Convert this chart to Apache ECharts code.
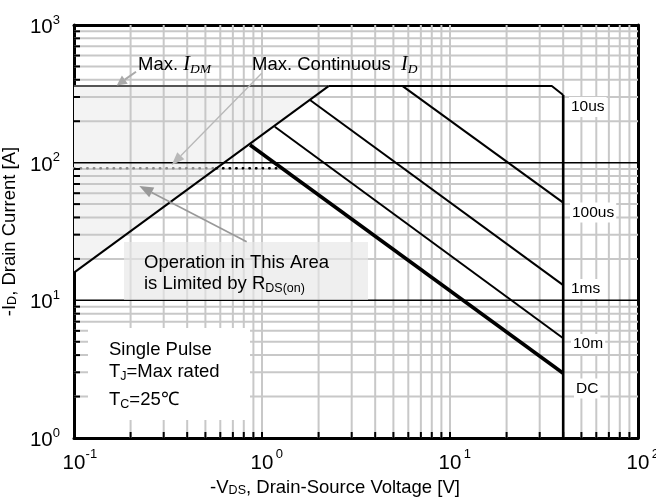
<!DOCTYPE html>
<html>
<head>
<meta charset="utf-8">
<script src="https://cdn.jsdelivr.net/npm/echarts@6/dist/echarts.min.js"></script>
<style>
  html, body { margin: 0; padding: 0; background: #fff; }
  #chart { width: 656px; height: 499px; }
</style>
</head>
<body>
<div id="chart"></div>
<script>
// Axis extents (log scales)
const X_MIN = 0.1, X_MAX = 100;
const Y_MIN = 1, Y_MAX = 1000;

// Decade mantissas used for the minor grid
const mantissas = [2, 3, 4, 5, 6, 7, 8, 9];
const xDecadeStarts = [0.1, 1, 10];
const yDecadeStarts = [1, 10, 100];
const xMajorLines = [1, 10];
const yMajorLines = [10, 100];

// Safe operating area boundaries [V, A]
const rdsOnLimit    = [[0.1, 15.9], [2.26, 360]];
const idmLimit      = [[0.1, 360], [2.26, 360]];
const rdsOnRegion   = [[0.1, 15.9], [0.1, 360], [2.26, 360]];
const idContInside  = [[0.1, 91], [0.572, 91]];
const idContOutside = [[0.572, 91], [1.28, 91]];
const curve10us     = [[2.26, 360], [34.8, 360], [40, 310]];
const curve100us    = [[5.6, 360], [40, 51.3]];
const curve1ms      = [[1.8, 285], [40, 12.9]];
const curve10ms     = [[1.17, 182.5], [40, 5.3]];
const curveDC       = [[0.864, 134.5], [40, 2.95]];
const bvdssLimit    = [[40, 310], [40, 1]];

const xMinorLines = [];
xDecadeStarts.forEach(d => mantissas.forEach(m => xMinorLines.push(+(d * m).toPrecision(3))));
const yMinorLines = [];
yDecadeStarts.forEach(d => mantissas.forEach(m => yMinorLines.push(+(d * m).toPrecision(3))));

const FONT = '"Liberation Sans", Arial, sans-serif';
const SERIF = '"Liberation Serif", "Times New Roman", serif';

function gridLineItem(vertical, color, width) {
  return function (params, api) {
    const v = vertical ? api.value(0) : api.value(1);
    const a = vertical ? api.coord([v, Y_MAX]) : api.coord([X_MIN, v]);
    const b = vertical ? api.coord([v, Y_MIN]) : api.coord([X_MAX, v]);
    return { type: 'line', shape: { x1: a[0], y1: a[1], x2: b[0], y2: b[1] },
             style: { stroke: color, lineWidth: width } };
  };
}

function tickItem(vertical) {
  return function (params, api) {
    if (vertical) {
      const p = api.coord([api.value(0), Y_MIN]);
      return { type: 'line', shape: { x1: p[0], y1: p[1], x2: p[0], y2: p[1] - 6 },
               style: { stroke: '#000', lineWidth: 2 } };
    }
    const p = api.coord([X_MIN, api.value(1)]);
    return { type: 'line', shape: { x1: p[0], y1: p[1], x2: p[0] + 6, y2: p[1] },
             style: { stroke: '#000', lineWidth: 2 } };
  };
}

function lineSeries(data, width, color, extra) {
  return Object.assign({
    type: 'line', data: data, showSymbol: false, symbol: 'none', silent: true,
    lineStyle: { color: color || '#000', width: width }, z: 6
  }, extra || {});
}

function arrow(x1, y1, x2, y2, color, w, hl, hw) {
  const ang = Math.atan2(y2 - y1, x2 - x1);
  const bx = x2 - hl * Math.cos(ang), by = y2 - hl * Math.sin(ang);
  const nx = -Math.sin(ang) * hw / 2, ny = Math.cos(ang) * hw / 2;
  return [
    { type: 'line', z: 100, shape: { x1: x1, y1: y1, x2: bx, y2: by },
      style: { stroke: color, lineWidth: w } },
    { type: 'polygon', z: 100, shape: { points: [[x2, y2], [bx + nx, by + ny], [bx - nx, by - ny]] },
      style: { fill: color } }
  ];
}

function text(x, y, str, rich, extra) {
  return { type: 'text', x: x, y: y, z: 101,
    style: Object.assign({ text: str, rich: rich, fontFamily: FONT, fontSize: 18.5, fill: '#000',
                           align: 'left', verticalAlign: 'middle' }, extra || {}) };
}

const richSubText = {
  n: { fontFamily: FONT, fontSize: 18.5, lineHeight: 22 },
  s: { fontFamily: FONT, fontSize: 12.5, lineHeight: 12, verticalAlign: 'bottom' },
  i: { fontFamily: SERIF, fontStyle: 'italic', fontSize: 20, lineHeight: 22 },
  is: { fontFamily: SERIF, fontStyle: 'italic', fontSize: 13.5, lineHeight: 13, verticalAlign: 'bottom' }
};

function expLabel(v) {
  return Math.round(Math.log10(v));
}

const chart = echarts.init(document.getElementById('chart'), null, { renderer: 'canvas' });

const curveLabelStyle = { fontFamily: FONT, fontSize: 15.5, fill: '#000', backgroundColor: '#fff',
                          padding: [2, 2, 2, 2], align: 'left', verticalAlign: 'middle' };

const frameAxis = {
  type: 'log', logBase: 10,
  axisLine: { show: true, lineStyle: { color: '#000', width: 3 } },
  axisTick: { show: false }, axisLabel: { show: false }, splitLine: { show: false }
};

chart.setOption({
  animation: false,
  backgroundColor: '#fff',
  grid: { left: 74, right: 18, top: 25, bottom: 61, show: false, containLabel: false, outerBoundsMode: 'none' },
  xAxis: [{
    type: 'log', logBase: 10, min: X_MIN, max: X_MAX, position: 'bottom',
    axisLine: { show: true, onZero: false, lineStyle: { color: '#000', width: 3 } },
    axisTick: { show: false }, splitLine: { show: false },
    axisLabel: {
      margin: 10,
      formatter: v => '{p|}{b|10}{s|' + expLabel(v) + '}',
      rich: {
        p: { width: 12 },
        b: { fontFamily: FONT, fontSize: 20.5, lineHeight: 20, padding: [10, 0, 0, 0], color: '#000' },
        s: { fontFamily: FONT, fontSize: 13, lineHeight: 13, verticalAlign: 'top', width: 12, color: '#000' }
      }
    },
    name: '-V{sub|DS}, Drain-Source Voltage [V]',
    nameLocation: 'middle', nameGap: 36,
    nameTextStyle: {
      fontFamily: FONT, fontSize: 18.5, color: '#000', padding: [0, 42, 0, 0],
      rich: { sub: { fontFamily: FONT, fontSize: 12.5, lineHeight: 12, verticalAlign: 'bottom', padding: [4, 0, 0, 0] } }
    }
  }, Object.assign({ min: X_MIN, max: X_MAX, position: 'top' }, frameAxis)],
  yAxis: [{
    type: 'log', logBase: 10, min: Y_MIN, max: Y_MAX, position: 'left',
    axisLine: { show: true, onZero: false, lineStyle: { color: '#000', width: 3 } },
    axisTick: { show: false }, splitLine: { show: false },
    axisLabel: {
      margin: 14,
      padding: [0, 0, 3, 0],
      formatter: v => '{b|10}{s|' + expLabel(v) + '}',
      rich: {
        b: { fontFamily: FONT, fontSize: 20.5, lineHeight: 20, padding: [8, 0, 0, 0], color: '#000' },
        s: { fontFamily: FONT, fontSize: 13, lineHeight: 13, verticalAlign: 'top', color: '#000' }
      }
    },
    name: '-I{sub|D}, Drain Current [A]',
    nameLocation: 'middle', nameGap: 48,
    nameTextStyle: {
      fontFamily: FONT, fontSize: 18.5, color: '#000',
      rich: { sub: { fontFamily: FONT, fontSize: 12.5, lineHeight: 12, verticalAlign: 'bottom', padding: [4, 0, 0, 0] } }
    }
  }, Object.assign({ min: Y_MIN, max: Y_MAX, position: 'right' }, frameAxis)],
  series: [
    // shaded R_DS(on)-limited region
    { type: 'custom', silent: true, z: 1, data: [[X_MIN, Y_MIN]],
      renderItem: (params, api) => ({
        type: 'polygon',
        shape: { points: rdsOnRegion.map(p => api.coord(p)) },
        style: { fill: '#f3f3f3' }
      }) },
    // grid
    { type: 'custom', silent: true, z: 2, data: xMinorLines.concat(xMajorLines).map(v => [v, Y_MIN]),
      renderItem: gridLineItem(true, '#c8c8c8', 2) },
    { type: 'custom', silent: true, z: 2, data: yMinorLines.map(v => [X_MIN, v]),
      renderItem: gridLineItem(false, '#c8c8c8', 2) },
    { type: 'custom', silent: true, z: 4, data: yMajorLines.map(v => [X_MIN, v]),
      renderItem: gridLineItem(false, '#000', 1.5) },
    // minor ticks
    { type: 'custom', silent: true, z: 7, data: xMinorLines.concat(xMajorLines).map(v => [v, Y_MIN]),
      renderItem: tickItem(true) },
    { type: 'custom', silent: true, z: 7, data: yMinorLines.map(v => [X_MIN, v]),
      renderItem: tickItem(false) },
    // limits and pulse curves
    lineSeries(idContInside, 2.4, '#8a8a8a', { lineStyle: { color: '#8a8a8a', width: 2.4, type: [0.5, 6.1], cap: 'round' } }),
    lineSeries(idContOutside, 2.4, '#000', { lineStyle: { color: '#000', width: 2.4, type: [0.5, 6.1], cap: 'round' } }),
    lineSeries(idmLimit, 2, '#555'),
    lineSeries(rdsOnLimit, 2),
    lineSeries(curve10us, 2),
    lineSeries(curve100us, 2),
    lineSeries(curve1ms, 2),
    lineSeries(curve10ms, 2),
    lineSeries(curveDC, 3.6),
    lineSeries(bvdssLimit, 2.6)
  ],
  graphic: [
    // note boxes
    { type: 'rect', z: 5, shape: { x: 124, y: 242, width: 244, height: 58 },
      style: { fill: 'rgba(230,230,230,0.65)' } },
    { type: 'rect', z: 5, shape: { x: 88, y: 328, width: 162, height: 92 },
      style: { fill: '#fff' } },
    ...arrow(136, 71.7, 116.7, 85.5, '#aaaaaa', 2, 10, 10),
    ...arrow(261.7, 73.3, 171.7, 165, '#b8b8b8', 1.3, 13, 10),
    ...arrow(246.7, 241.7, 139.3, 186, '#999999', 1.6, 14, 11),
    text(138, 65, '{n|Max. }{i|I}{is|DM}', richSubText),
    text(252, 65, '{n|Max. Continuous  }{i|I}{is|D}', richSubText),
    text(144, 263, '{n|Operation in This Area}', richSubText),
    text(144, 284, '{n|is Limited by R}{s|DS(on)}', richSubText),
    text(109, 350, '{n|Single Pulse}', richSubText),
    text(109, 372, '{n|T}{s|J}{n|=Max rated}', richSubText),
    text(109, 400, '{n|T}{s|C}{n|=25\u2103}', richSubText),
    { type: 'text', x: 569, y: 107, z: 101, style: Object.assign({ text: '10us' }, curveLabelStyle) },
    { type: 'text', x: 570, y: 212.5, z: 101, style: Object.assign({ text: '100us' }, curveLabelStyle) },
    { type: 'text', x: 569, y: 289, z: 101, style: Object.assign({ text: '1ms' }, curveLabelStyle) },
    { type: 'text', x: 571, y: 344, z: 101, style: Object.assign({ text: '10m' }, curveLabelStyle) },
    { type: 'text', x: 574, y: 388.5, z: 101, style: Object.assign({ text: 'DC' }, curveLabelStyle) }
  ]
});
</script>
</body>
</html>
